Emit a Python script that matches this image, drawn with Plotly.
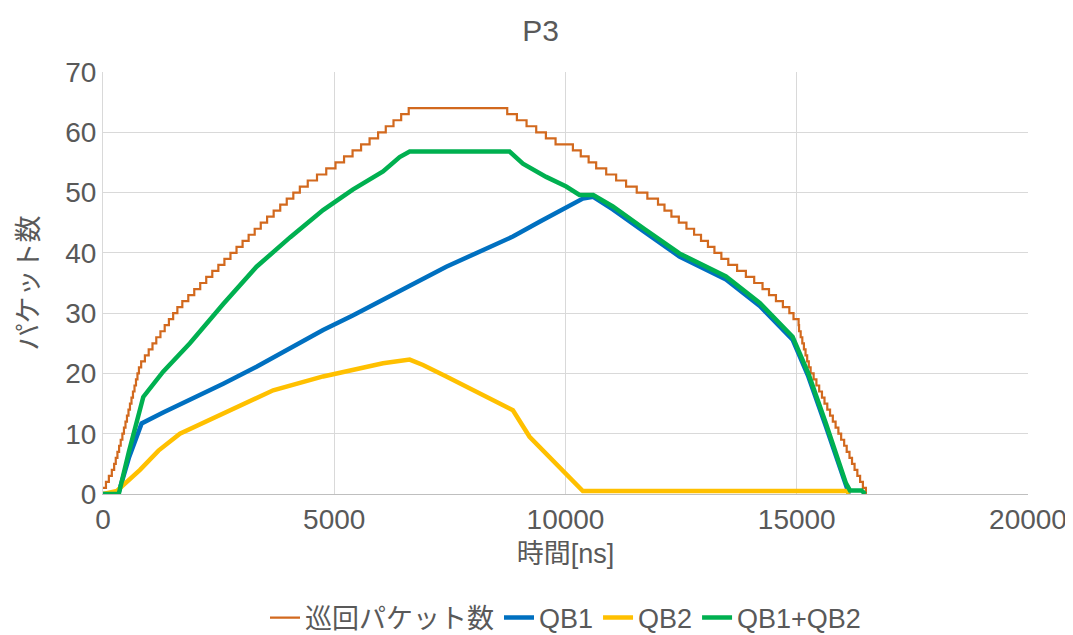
import plotly.graph_objects as go

# 巡回パケット数 : step times (ns) and levels
loop_t = [0, 64, 127, 191, 241, 276, 312, 348, 383, 419, 453, 486, 518, 551, 583, 616, 648,
          681, 713, 745, 777, 825, 906, 988, 1070, 1152, 1242, 1334, 1425, 1517, 1608,
          1715, 1844, 1973, 2102, 2232, 2363, 2494, 2625, 2756, 2887, 3018, 3149, 3280, 3411,
          3548, 3690, 3832, 3973, 4115, 4256, 4427, 4627, 4827, 5027, 5212, 5396, 5580, 5764,
          5948, 6114, 6281, 6447, 6610,
          8740, 8949, 9158, 9367, 9576, 9785, 10160, 10330, 10500, 10663, 10880, 11095, 11310,
          11540, 11770, 12000, 12140, 12290, 12450, 12615, 12780, 12930, 13080, 13220, 13370,
          13520, 13710, 13900, 14080, 14260, 14400, 14550, 14700, 14840, 14930, 15040, 15050,
          15085, 15120, 15155, 15190, 15225, 15260, 15300, 15365, 15425, 15485, 15545, 15600,
          15660, 15720, 15780, 15840, 15900, 15960, 16025, 16080, 16140, 16195, 16250, 16310,
          16370, 16430, 16495]
loop_v = [1, 2, 3, 4, 5, 6, 7, 8, 9, 10, 11, 12, 13, 14, 15, 16, 17,
          18, 19, 20, 21, 22, 23, 24, 25, 26, 27, 28, 29, 30, 31,
          32, 33, 34, 35, 36, 37, 38, 39, 40, 41, 42, 43, 44, 45,
          46, 47, 48, 49, 50, 51, 52, 53, 54, 55, 56, 57, 58, 59,
          60, 61, 62, 63, 64,
          63, 62, 61, 60, 59, 58, 57, 56, 55, 54, 53, 52, 51,
          50, 49, 48, 47, 46, 45, 44, 43, 42, 41, 40, 39,
          38, 37, 36, 35, 34, 33, 32, 31, 30, 29, 28, 27,
          26, 25, 24, 23, 22, 21, 20, 19, 18, 17, 16, 15,
          14, 13, 12, 11, 10, 9, 8, 7, 6, 5, 4, 3,
          2, 1, 0]

# QB1
qb1_t = [0, 330, 560, 835, 1300, 1879, 2600, 3320, 4050, 4759, 5400, 6199, 6800, 7422,
         8150, 8863, 9450, 10015, 10375, 10600, 11023, 11700, 12463, 13470, 14200, 14910,
         15250, 15631, 16063, 16130]
qb1_v = [0, 0, 6, 11.7, 13.5, 15.6, 18.3, 21.1, 24.2, 27.2, 29.6, 32.7, 35.2, 37.7,
         40.3, 42.7, 45.2, 47.6, 49.0, 49.3, 47.2, 43.5, 39.4, 35.6, 31.2, 25.6,
         19.5, 11.2, 1.3, 0]

# QB2
qb2_t = [0, 300, 800, 1200, 1663, 2600, 3680, 4759, 5400, 6055, 6631, 6919, 7422, 8143,
         8863, 9223, 9582, 10015, 10303, 10375, 12000, 14000, 16090, 16130]
qb2_v = [0, 0.5, 4.0, 7.2, 10.0, 13.4, 17.2, 19.5, 20.6, 21.7, 22.3, 21.4, 19.5, 16.7,
         13.9, 9.5, 6.7, 3.4, 0.9, 0.5, 0.5, 0.5, 0.5, 0]

# QB1+QB2
sum_t = [0, 340, 560, 800, 871, 1300, 1879, 2600, 3320, 4050, 4759, 5400, 6055, 6415,
         6631, 7500, 8791, 9079, 9582, 10015, 10303, 10600, 11023, 11700, 12463, 13470,
         14200, 14910, 15250, 15631, 16063, 16150, 16400, 16480]
sum_v = [0, 0, 7, 13.9, 16.1, 20.3, 25.0, 31.5, 37.7, 42.6, 47.1, 50.5, 53.5, 55.9,
         56.8, 56.8, 56.8, 54.8, 52.6, 51.0, 49.6, 49.6, 47.7, 44.0, 39.9, 36.1,
         31.7, 26.1, 20.0, 11.7, 1.8, 0.6, 0.6, 0]

x_ticks = [0, 5000, 10000, 15000, 20000]
y_ticks = [0, 10, 20, 30, 40, 50, 60, 70]

FONT = "Liberation Sans, Arial, Noto Sans CJK JP, sans-serif"
GRAY = "#595959"

# the page body has an 8px margin, so the figure is sized to fit the window
W, H = 1065, 627

fig = go.Figure()
fig.add_trace(go.Scatter(x=loop_t, y=loop_v, mode="lines", name="巡回パケット数",
                         line=dict(color="#D2691E", width=2.2, shape="hv")))
fig.add_trace(go.Scatter(x=qb1_t, y=qb1_v, mode="lines", name="QB1",
                         line=dict(color="#0070C0", width=4.5)))
fig.add_trace(go.Scatter(x=qb2_t, y=qb2_v, mode="lines", name="QB2",
                         line=dict(color="#FFC000", width=4.5)))
fig.add_trace(go.Scatter(x=sum_t, y=sum_v, mode="lines", name="QB1+QB2",
                         line=dict(color="#00B050", width=4.5)))

fig.update_layout(
    width=W, height=H,
    paper_bgcolor="white", plot_bgcolor="white",
    margin=dict(l=95, r=45, t=64, b=141, autoexpand=False),
    font=dict(family=FONT, color=GRAY, size=28),
    title=dict(text="P3", x=0.5, xanchor="center", y=1 - 22 / H, yanchor="middle",
               font=dict(size=30, color=GRAY, family=FONT)),
    xaxis=dict(range=[0, 20000], tickvals=x_ticks, ticktext=[str(v) for v in x_ticks],
               showgrid=True, gridcolor="#D9D9D9", gridwidth=1, automargin=False,
               showline=True, linecolor="#BFBFBF", linewidth=1, zeroline=False,
               ticks="", tickfont=dict(size=28, color=GRAY),
               title=dict(text="時間[ns]", font=dict(size=27, color=GRAY), standoff=10)),
    yaxis=dict(range=[0, 70], tickvals=y_ticks, ticktext=[str(v) for v in y_ticks],
               showgrid=True, gridcolor="#D9D9D9", gridwidth=1, automargin=False,
               showline=True, linecolor="#D9D9D9", linewidth=1, zeroline=False,
               ticks="", tickfont=dict(size=28, color=GRAY),
               title=dict(text="パケット数", font=dict(size=27, color=GRAY), standoff=18)),
    legend=dict(orientation="h", x=0.5, xanchor="center", y=-(610 - 486) / 422,
                yanchor="middle",
                font=dict(size=27, color=GRAY), itemwidth=30, tracegroupgap=0),
    showlegend=True,
)

fig.write_html("out.html")
